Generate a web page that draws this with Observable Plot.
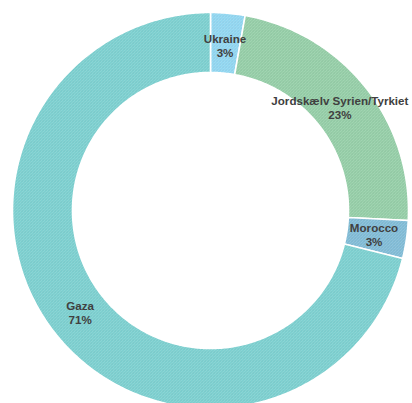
<!DOCTYPE html>
<html>
<head>
<meta charset="utf-8">
<script src="https://cdn.jsdelivr.net/npm/d3@7"></script>
<script src="https://cdn.jsdelivr.net/npm/@observablehq/plot@0.6"></script>
<style>
  html, body { margin: 0; padding: 0; background: #fff; }
  #chart { width: 412px; height: 403px; }
</style>
</head>
<body>
<div id="chart"></div>
<script>
// Data
const categories = ["Ukraine", "Jordskælv Syrien/Tyrkiet", "Morocco", "Gaza"];
const values = [2.8, 23.0, 3.1, 71.1];
const labels = ["3%", "23%", "3%", "71%"];
const baseColors = ["#86d2ef", "#8ac99e", "#74b5d2", "#6fcaca"];

const W = 412, H = 403;
const innerRatio = 0.697;

// Build slices
const total = d3.sum(values);
let acc = 0;
const slices = categories.map((name, i) => {
  const a0 = acc / total * 2 * Math.PI;
  acc += values[i];
  const a1 = acc / total * 2 * Math.PI;
  return {name, a0, a1, label: name + "\n" + labels[i]};
});

const pts = [];
for (const s of slices) {
  const n = Math.max(8, Math.ceil((s.a1 - s.a0) * 80));
  for (let k = 0; k <= n; k++) {
    const a = s.a0 + (s.a1 - s.a0) * k / n;
    pts.push({name: s.name, x: Math.sin(a), y: Math.cos(a)});
  }
  for (let k = n; k >= 0; k--) {
    const a = s.a0 + (s.a1 - s.a0) * k / n;
    pts.push({name: s.name, x: innerRatio * Math.sin(a), y: innerRatio * Math.cos(a)});
  }
}
const labelR = 0.835;
const labelPts = slices.map(s => {
  const a = (s.a0 + s.a1) / 2;
  return {label: s.label, x: labelR * Math.sin(a), y: labelR * Math.cos(a)};
});

const R = 198, cx = 210, cy = 210;
const plot = Plot.plot({
  width: W, height: H,
  margin: 0,
  x: {domain: [-cx / R, (W - cx) / R], axis: null},
  y: {domain: [-(H - cy) / R, cy / R], axis: null},
  color: {type: "ordinal", domain: categories, range: categories.map((_, i) => `url(#pat${i})`)},
  style: {fontFamily: "'Liberation Sans', Arial, sans-serif", background: "#fff"},
  marks: [
    Plot.line(pts, {x: "x", y: "y", z: "name", fill: "name", stroke: "white", strokeWidth: 1.6, curve: "linear-closed"}),
    Plot.text(labelPts, {x: "x", y: "y", text: "label", fontWeight: "bold", fontSize: 11.6, fill: "#404040", lineHeight: 1.22})
  ]
});

// Hatch patterns
const defs = d3.select(plot).insert("defs", ":first-child");
baseColors.forEach((c, i) => {
  const light = d3.interpolateRgb(c, "#ffffff")(0.45);
  const dark = d3.interpolateRgb(c, "#000000")(0.08);
  const p = defs.append("pattern").attr("id", `pat${i}`).attr("patternUnits", "userSpaceOnUse")
    .attr("width", 3).attr("height", 3);
  p.append("rect").attr("width", 3).attr("height", 3).attr("fill", c);
  p.append("path").attr("d", "M-1,1 L1,-1 M0,3 L3,0 M2,4 L4,2").attr("stroke", light).attr("stroke-width", 0.9);
  p.append("rect").attr("x", 0).attr("y", 0).attr("width", 1).attr("height", 1).attr("fill", dark);
});

document.getElementById("chart").appendChild(plot);
</script>
</body>
</html>
